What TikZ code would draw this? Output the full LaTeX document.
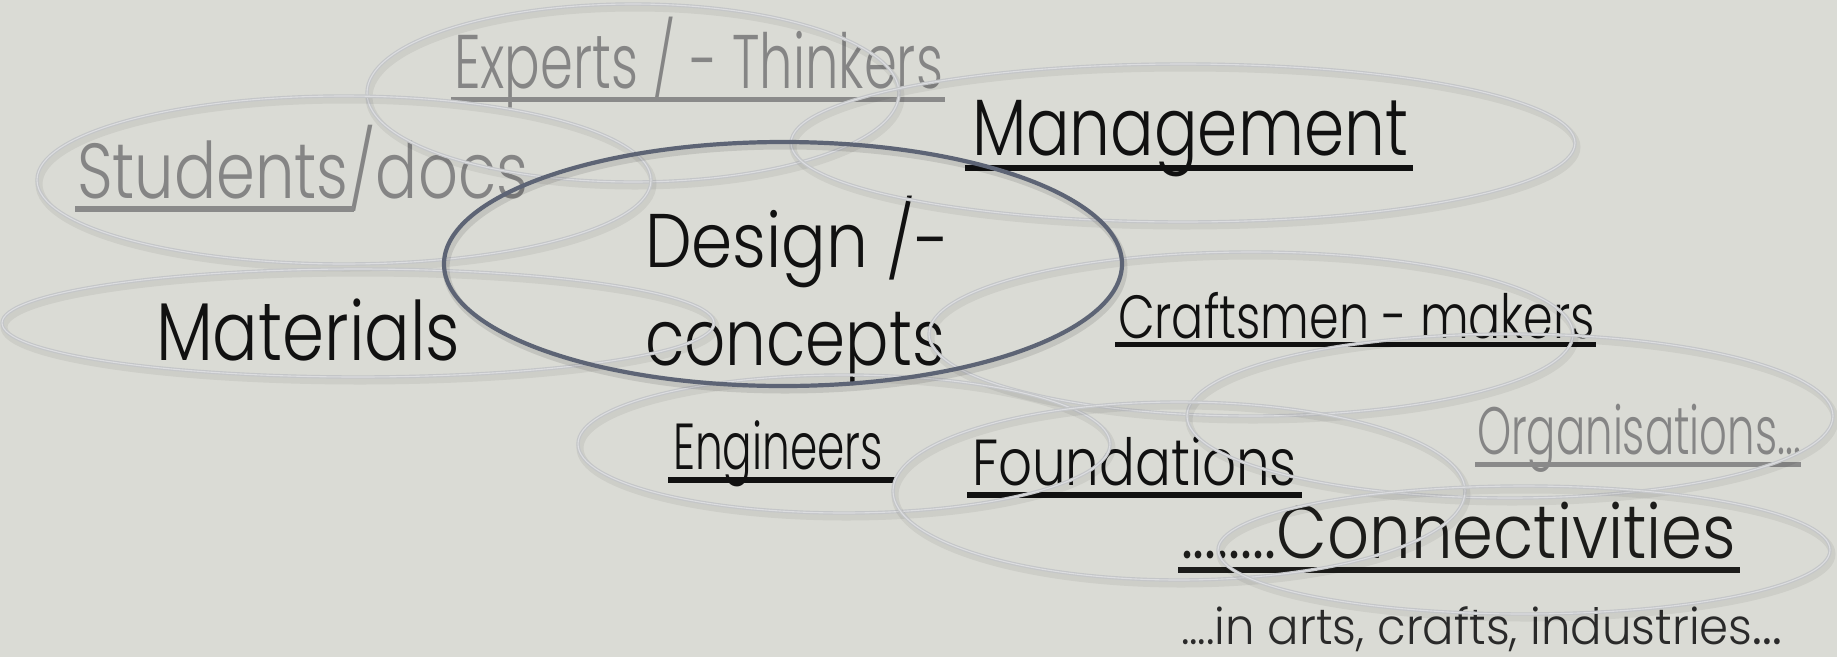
\documentclass[tikz,border=0pt]{standalone}
\usepackage{fontspec}
\usepackage{graphicx}
\newfontfamily\pf{Poppins Light}
\newfontfamily\pfr{Poppins}
\definecolor{bg}{HTML}{DADBD5}
\definecolor{ellout}{HTML}{C4C6C8}
\definecolor{ellin}{HTML}{DCDDE0}
\definecolor{dsg}{HTML}{5D6475}
\definecolor{txgray}{HTML}{858585}
\definecolor{ulgray}{HTML}{8A8A8A}
\definecolor{ink}{HTML}{111111}
\definecolor{inkb}{HTML}{1C1C1A}
\definecolor{soft}{HTML}{2A2A2A}
\tikzset{
  lbl/.style={inner sep=0pt, outer sep=0pt, anchor=base west},
  ellshadow/.style={draw=black, draw opacity=0.06, line width=7pt},
  ellouter/.style={draw=ellout, line width=3.4pt},
  ellinner/.style={draw=ellin, line width=1.1pt},
  dsgshadow/.style={draw=black, draw opacity=0.10, line width=7pt},
  dsgline/.style={draw=dsg, line width=4.2pt},
}
\newcommand\lab[7]{\node[lbl,text=#6] (#1) at (#2,#3) {\resizebox{#4pt}{\height}{\pf\fontsize{#5pt}{#5pt}\selectfont #7}};}
\newcommand\ringell[4]{%
  \draw[ellshadow] (#1+2,#2+4) ellipse [x radius=#3pt, y radius=#4pt];
  \draw[ellouter] (#1,#2) ellipse [x radius=#3pt, y radius=#4pt];
  \draw[ellinner] (#1,#2) ellipse [x radius=#3pt, y radius=#4pt];}
\begin{document}
\begin{tikzpicture}[x=1pt,y=-1pt]
\useasboundingbox (0,0) rectangle (1837,657);
\fill[bg] (0,0) rectangle (1837,657);

% texts
\lab{experts}{454}{88}{489}{76}{txgray}{Experts / - Thinkers}
\lab{students}{77}{198}{451}{78}{txgray}{Students/docs}
\lab{management}{972}{155}{436}{80}{ink}{Management}
\lab{design}{645}{267}{305}{76}{ink}{Design /-}
\lab{concepts}{645}{365}{300}{78}{ink}{concepts}
\lab{materials}{156}{360}{304}{82}{ink}{Materials}
\lab{craftsmen}{1118}{338}{477}{61}{ink}{Craftsmen - makers}
\lab{organisations}{1477}{454}{324}{67}{txgray}{Organisations...}
\lab{engineers}{673}{469}{210}{65}{ink}{Engineers}
\lab{foundations}{972}{485}{325}{65}{ink}{Foundations}
\lab{connectivities}{1181}{558}{555}{75}{inkb}{........Connectivities}
\lab{arts}{1181}{644}{601}{50}{soft}{....in arts, crafts, industries{\pfr...}}

% underlines
\fill[ulgray] (451,97) rectangle (945,102);
\fill[ulgray] (75,206) rectangle (354,212);
\fill[ink] (965,165) rectangle (1413,171);
\fill[ink] (1115,342) rectangle (1596,347);
\fill[ulgray] (1475,462) rectangle (1801,467);
\fill[ink] (668,477) rectangle (896,483);
\fill[ink] (967,492) rectangle (1302,498);
\fill[inkb] (1178,567) rectangle (1740,573);

% ellipses
\ringell{633}{93}{266}{89}
\ringell{344}{180}{307}{84}
\ringell{358}{323}{356}{54}
\ringell{1183}{143}{392}{79}
\ringell{1251}{334}{322}{82}
\ringell{1510}{416}{323}{82}
\ringell{844}{444}{266}{69}
\ringell{1179}{491}{286}{89}
\ringell{1524}{550}{306}{64}
\draw[dsgshadow] (785,268) ellipse [x radius=339pt, y radius=122pt];
\draw[dsgline] (783,264) ellipse [x radius=339pt, y radius=122pt];
\end{tikzpicture}
\end{document}
